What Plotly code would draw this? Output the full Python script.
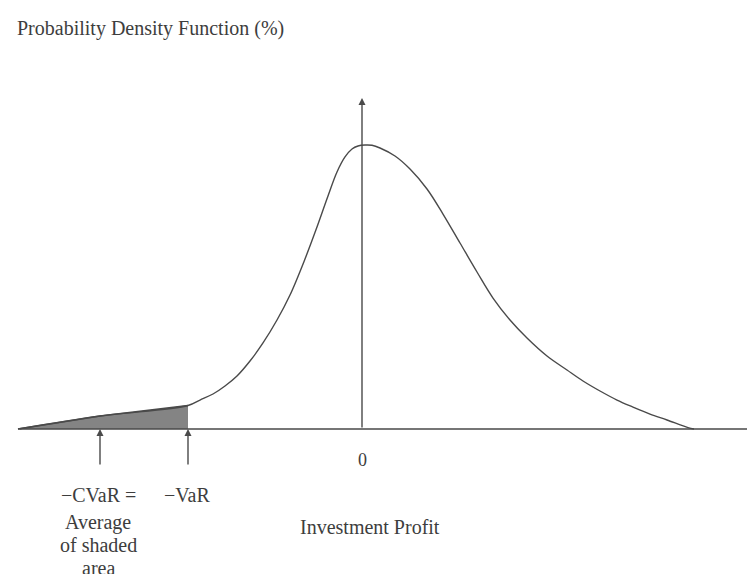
import plotly.graph_objects as go

# Density curve (investment profit, arbitrary units; density in %)
profit = [-8.6, -6.55, -4.35, -4.05, -3.725, -3.425, -3.125, -2.8, -2.475, -2.125,
          -1.8, -1.425, -1.125, -0.85, -0.625, -0.425, -0.25, -0.1, 0.075, 0.25,
          0.45, 0.825, 1.2, 1.625, 2.025, 2.45, 2.875, 3.275, 3.7, 4.125, 4.625,
          5.125, 5.525, 5.95, 6.375, 6.775, 7.2, 7.625, 8.15, 8.3]
density = [0.0, 0.0186, 0.0336, 0.0414, 0.05, 0.0614, 0.0757, 0.0971, 0.1229, 0.1557,
           0.1914, 0.2429, 0.2886, 0.3329, 0.3671, 0.3886, 0.4, 0.4043, 0.4057, 0.4053,
           0.4014, 0.39, 0.3714, 0.3429, 0.3071, 0.2657, 0.2243, 0.1871, 0.1557, 0.13,
           0.1043, 0.0843, 0.0686, 0.0543, 0.0414, 0.0314, 0.0214, 0.0129, 0.0021, 0.0]

var_x = -4.35
cvar_x = -6.55

title_text = "Probability Density Function (%)"
xlabel_text = "Investment Profit"
zero_label = "0"
cvar_lines = ["\u2212CVaR =", "Average", "of shaded", "area"]
var_label = "\u2212VaR"

LINE = "#4a4a4a"
TXT = "#3d3d3d"
FONT = "Liberation Serif"

W, H = 747, 566  # page has an 8px body margin

fig = go.Figure()

shade_x = [x for x in profit if x <= var_x]
shade_y = [d for x, d in zip(profit, density) if x <= var_x]
fig.add_trace(go.Scatter(x=shade_x, y=shade_y, mode="lines", fill="tozeroy",
                         fillcolor="#848484", line=dict(color=LINE, width=1.4),
                         hoverinfo="skip", showlegend=False))
fig.add_trace(go.Scatter(x=profit, y=density, mode="lines",
                         line=dict(color=LINE, width=1.4, shape="spline", smoothing=1.0),
                         showlegend=False))


def arrow(x, y, ax, ay, size=1.0):
    fig.add_annotation(x=x, y=y, ax=ax, ay=ay, xref="x", yref="y", axref="x", ayref="y",
                       text="", showarrow=True, arrowhead=2, arrowsize=size,
                       arrowwidth=1.4, arrowcolor=LINE)


arrow(9.95, 0, profit[0], 0)
arrow(0, 0.473, 0, 0)
arrow(cvar_x, 0, cvar_x, -0.053)
arrow(var_x, 0, var_x, -0.053)


def label(x, y, text, size=20):
    fig.add_annotation(x=x, y=y, xref="x", yref="y", text=text, showarrow=False,
                       xanchor="center", yanchor="middle",
                       font=dict(family=FONT, size=size, color=TXT))


label(0, -0.0443, zero_label, 18)
label(0.2, -0.14, xlabel_text)
label(var_x - 0.03, -0.0943, var_label)
ys = [-0.0943, -0.134, -0.166, -0.199]
for t, yy in zip(cvar_lines, ys):
    label(-6.6, yy, t)

fig.add_annotation(x=(15 - 8) / W, y=1 - (28 - 8) / H, xref="paper", yref="paper",
                   text=title_text, showarrow=False, xanchor="left", yanchor="middle",
                   font=dict(family=FONT, size=20, color=TXT))

fig.update_layout(width=W, height=H, margin=dict(l=0, r=0, t=0, b=0),
                  paper_bgcolor="white", plot_bgcolor="white",
                  xaxis=dict(range=[-8.85, 9.825], visible=False, fixedrange=True),
                  yaxis=dict(range=[-0.2071, 0.6014], visible=False, fixedrange=True))

fig.write_html("out.html")
